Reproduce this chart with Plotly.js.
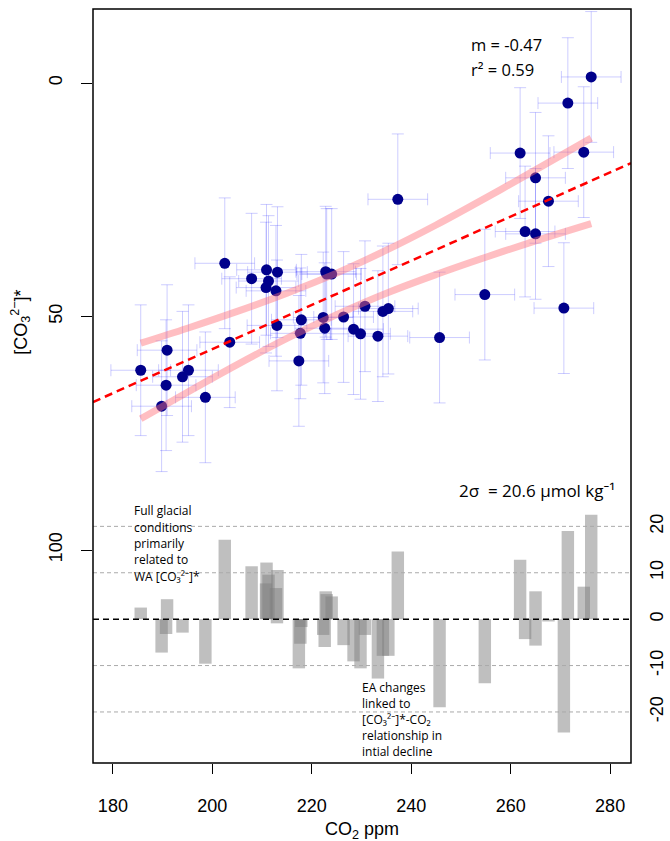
<!DOCTYPE html>
<html>
<head>
<meta charset="utf-8">
<script src="https://cdn.plot.ly/plotly-3.0.1.min.js"></script>
<style>html,body{margin:0;padding:0;background:#fff;}#chart{width:670px;height:841px;}</style>
</head>
<body>
<div id="chart"></div>
<script>
// ---- data ----
const co2 = [185.6,189.8,190.7,190.9,194.0,195.2,198.6,202.5,203.5,207.9,210.9,211.3,210.8,213.1,212.8,213.0,217.9,217.7,217.4,222.3,222.6,222.8,223.0,224.0,226.4,228.4,229.8,230.7,233.3,234.3,235.4,237.3,245.7,254.8,261.9,262.9,265.0,265.0,267.6,270.7,271.5,274.7,276.2];
const co3 = [61.5,69.2,64.7,57.2,62.9,61.5,67.3,38.6,55.5,41.9,40.0,42.4,43.8,40.5,44.5,51.9,50.7,53.6,59.5,50.2,52.5,40.4,40.9,40.9,50.1,52.7,53.7,47.8,54.2,48.9,48.3,24.9,54.5,45.3,15.0,31.8,32.3,20.3,25.3,48.2,4.3,14.8,-1.3];
const resid = [2.5,-7.2,-3.2,4.3,-2.9,null,-9.6,17.1,null,11.4,12.2,9.6,7.7,10.6,6.7,-0.9,-1.7,-5.3,-10.6,-3.4,-6.0,6.0,5.4,4.9,-5.6,-9.1,-10.6,-3.4,-12.8,-7.9,-7.9,14.6,-19.0,-13.8,12.8,-4.3,-5.7,6.0,-0.5,-24.4,19.0,7.0,22.5];
const co2Err = 6;
const co3Err = 14;
const fitSlope = -0.4727;
const fitIntercept = 151.5;
const bandX = [185.6,195,205,215,225,235,245,255,265,276.2];
const bandUpper = [55.7,52.5,48.9,45.0,40.7,35.8,30.4,24.6,18.6,11.8];
const bandLower = [71.9,66.2,60.3,54.7,49.6,45.0,41.0,37.3,33.8,30.1];
const xTicks = [180,200,220,240,260,280];
const yTicks = [0,50,100];
const residTicks = [-20,-10,0,10,20];
const residTickText = ['-20','-10','0','10','20'];
const residGuides = [20,10,-10,-20];
const glacialLines = ['Full glacial','conditions','primarily','related to','WA [CO₃²⁻]*'];
const eaLines = ['EA changes','linked to','[CO₃²⁻]*-CO₂','relationship in','intial decline'];

const xRange = [176, 284.2];
const fitX = xRange.slice();
const fitY = fitX.map(x => fitIntercept + fitSlope * x);

const tickFont = {family:'Liberation Sans, Arial, sans-serif', size:18, color:'#000'};
const txtFont = {family:'Open Sans, Noto Sans, sans-serif', color:'#000'};

const traces = [
  {
    x: co2, y: co3, type:'scatter', mode:'markers',
    marker:{color:'#00008B', size:11},
    error_x:{type:'constant', value:co2Err, color:'rgba(0,0,255,0.2)', thickness:1, width:6},
    error_y:{type:'constant', value:co3Err, color:'rgba(0,0,255,0.2)', thickness:1, width:6},
    hoverinfo:'skip', showlegend:false
  },
  {x: bandX, y: bandUpper, type:'scatter', mode:'lines', line:{color:'rgba(255,110,120,0.45)', width:7, shape:'spline'}, showlegend:false, hoverinfo:'skip'},
  {x: bandX, y: bandLower, type:'scatter', mode:'lines', line:{color:'rgba(255,110,120,0.45)', width:7, shape:'spline'}, showlegend:false, hoverinfo:'skip'},
  {x: fitX, y: fitY, type:'scatter', mode:'lines', line:{color:'#ff0000', width:2.5, dash:'8px,5px'}, showlegend:false, hoverinfo:'skip'},
  {x: co2, y: resid, type:'bar', yaxis:'y2', width:2.5, marker:{color:'rgba(128,128,128,0.5)', line:{width:0}}, showlegend:false, hoverinfo:'skip'}
];

const shapes = [];
residGuides.forEach(v => shapes.push({type:'line', xref:'paper', x0:0, x1:1, yref:'y2', y0:v, y1:v, line:{color:'#aaaaaa', width:1, dash:'4px,3px'}, layer:'above'}));
shapes.push({type:'line', xref:'paper', x0:0, x1:1, yref:'y2', y0:0, y1:0, line:{color:'#000', width:1.5, dash:'6px,4px'}, layer:'above'});
shapes.push({type:'rect', xref:'paper', yref:'paper', x0:0, x1:1, y0:0, y1:1, line:{color:'#000', width:1.5}, layer:'above'});

const plotTop = 9, plotH = 754;
const py2paper = py => 1 - (py - plotTop) / plotH;

const annotations = [
  {xref:'paper', yref:'paper', x:-0.134, y:0.585, text:'[CO<sub>3</sub><sup>2−</sup>]*', textangle:-90, showarrow:false, font:{family:'Liberation Sans, Arial, sans-serif', size:18, color:'#000'}, xanchor:'center', yanchor:'middle'},
  {xref:'paper', yref:'paper', x:0.5, y:-0.089, text:'CO<sub>2</sub> ppm', showarrow:false, font:{family:'Liberation Sans, Arial, sans-serif', size:18, color:'#000'}, xanchor:'center', yanchor:'middle'},
  {xref:'paper', yref:'paper', x:0.7007, y:py2paper(44.5), text:'m = -0.47', showarrow:false, borderpad:0, font:Object.assign({size:16.5}, txtFont), xanchor:'left', yanchor:'middle'},
  {xref:'paper', yref:'paper', x:0.7007, y:py2paper(69), text:'r² = 0.59', showarrow:false, borderpad:0, font:Object.assign({size:16.5}, txtFont), xanchor:'left', yanchor:'middle'},
  {xref:'paper', yref:'paper', x:0.6766, y:0.362, text:'2σ  = 20.6 µmol kg⁻¹', showarrow:false, font:Object.assign({size:17}, txtFont), xanchor:'left', yanchor:'middle'}
];
// multi-line notes: one annotation per line
glacialLines.forEach((t, i) => {
  annotations.push({xref:'paper', yref:'paper', x:0.0743, y:py2paper(511 + i * 16.3), text:t, showarrow:false, borderpad:0,
    font:Object.assign({size:12}, txtFont), xanchor:'left', yanchor:'middle'});
});
eaLines.forEach((t, i) => {
  annotations.push({xref:'paper', yref:'paper', x:0.4981, y:py2paper(687 + i * 16.2), text:t, showarrow:false, borderpad:0,
    font:Object.assign({size:12}, txtFont), xanchor:'left', yanchor:'middle'});
});

const layout = {
  width:670, height:841,
  margin:{l:93, r:39, t:9, b:78},
  paper_bgcolor:'#fff', plot_bgcolor:'#fff',
  barmode:'overlay',
  showlegend:false,
  xaxis:{range:xRange, tickvals:xTicks, ticks:'outside', ticklen:10, tickwidth:1, tickcolor:'#000',
         showgrid:false, zeroline:false, showline:false, tickfont:tickFont, ticklabelstandoff:16},
  yaxis:{range:[145.6,-15.85], tickvals:yTicks, ticks:'outside', ticklen:11, tickwidth:1, tickcolor:'#000',
         tickangle:-90, showgrid:false, zeroline:false, showline:false, tickfont:tickFont, ticklabelstandoff:12},
  yaxis2:{overlaying:'y', side:'right', range:[-31,131.5], tickvals:residTicks, ticktext:residTickText,
          ticks:'', tickangle:-90, showgrid:false, zeroline:false, showline:false, tickfont:tickFont, ticklabelstandoff:13},
  shapes:shapes,
  annotations:annotations
};

Plotly.newPlot('chart', traces, layout, {displayModeBar:false, staticPlot:true});
</script>
</body>
</html>
